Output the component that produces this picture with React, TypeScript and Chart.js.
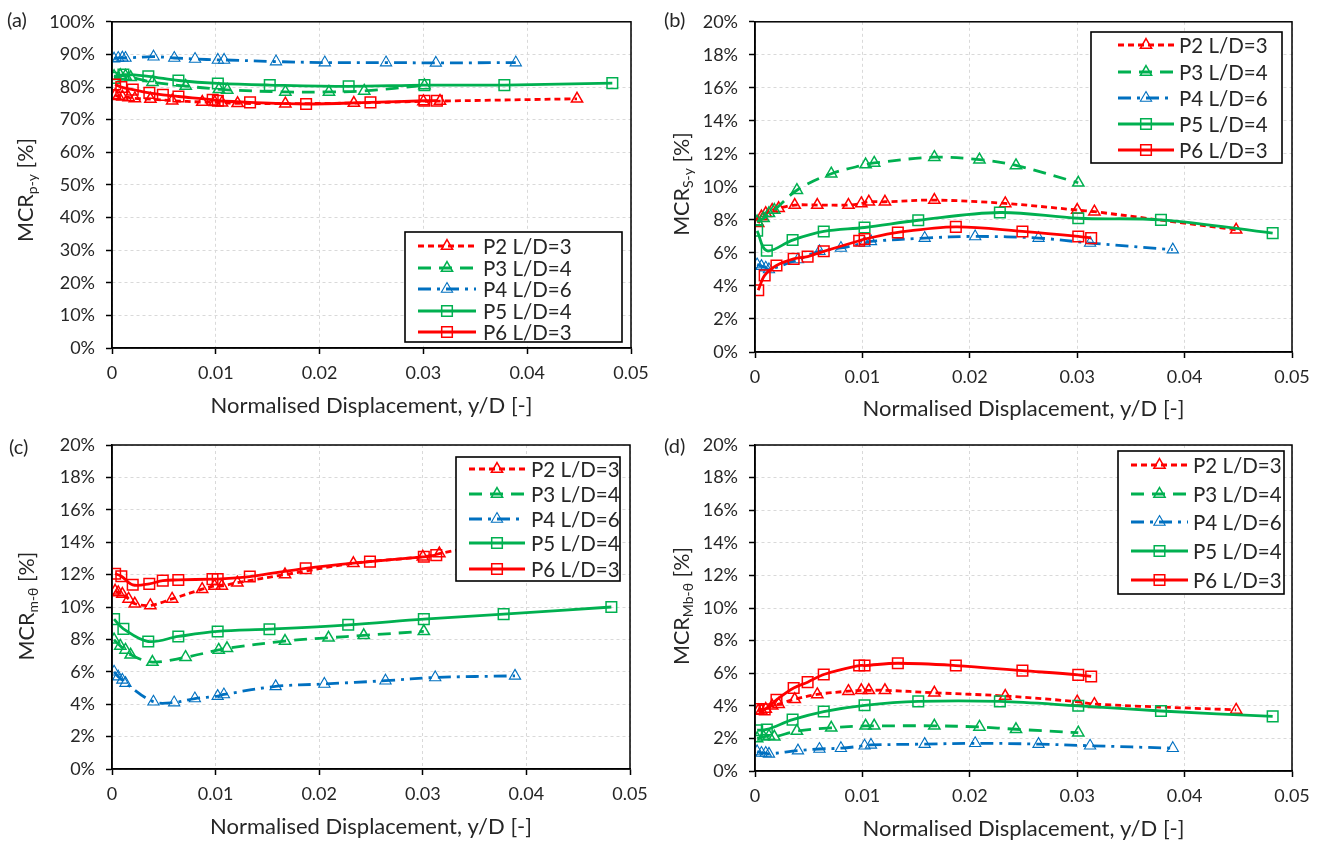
import React, { useEffect, useRef } from 'react';
import { Chart, registerables } from 'chart.js';

Chart.register(...registerables);

const FONT = 'Lato, "Open Sans", "DejaVu Sans", sans-serif';
const TEXT = '#262626';

// ---------- tick labels / names ----------
const xTickLabels = ['0', '0.01', '0.02', '0.03', '0.04', '0.05'];
const yTickLabelsA = ['0%', '10%', '20%', '30%', '40%', '50%', '60%', '70%', '80%', '90%', '100%'];
const yTickLabelsSmall = ['0%', '2%', '4%', '6%', '8%', '10%', '12%', '14%', '16%', '18%', '20%'];
const seriesNames = ['P2 L/D=3', 'P3 L/D=4', 'P4 L/D=6', 'P5 L/D=4', 'P6 L/D=3'];
const xAxisTitle = 'Normalised Displacement, y/D [-]';

// ---------- normalised displacement y/D of each test ----------
const xP2 = [0.0003, 0.0006, 0.001, 0.0016, 0.0022, 0.0037, 0.0058, 0.0087, 0.0099, 0.0106, 0.0121, 0.0167, 0.0233, 0.03, 0.0316, 0.0448];
const xP3 = [0.0002, 0.0008, 0.0013, 0.0018, 0.0039, 0.0071, 0.0103, 0.0111, 0.0167, 0.0209, 0.0243, 0.0301];
const xP4 = [0.0002, 0.0006, 0.001, 0.0013, 0.004, 0.006, 0.008, 0.0102, 0.0108, 0.0158, 0.0205, 0.0264, 0.0312, 0.0389];
const xP5 = [0.0002, 0.0011, 0.0035, 0.0064, 0.0102, 0.0152, 0.0228, 0.0301, 0.0378, 0.0482];
const xP6 = [0.0003, 0.0009, 0.002, 0.0036, 0.0049, 0.0064, 0.0097, 0.0102, 0.0133, 0.0187, 0.0249, 0.0301, 0.0313];

// ---------- (a) MCR p-y [%] ----------
const aP2 = [77.5, 77.2, 77.0, 76.8, 76.5, 76.3, 75.8, 75.4, 75.3, 75.2, 75.0, 74.9, 75.1, 75.6, 75.7, 76.4];
const aP3 = [83.3, 83.6, 83.4, 83.0, 81.5, 80.3, 79.3, 79.1, 78.5, 78.5, 78.8, 80.5];
const aP4 = [88.7, 88.9, 89.0, 88.9, 89.3, 88.9, 88.6, 88.3, 88.3, 87.8, 87.5, 87.5, 87.4, 87.5];
const aP5 = [82.8, 83.8, 83.3, 82.0, 81.1, 80.6, 80.2, 80.6, 80.6, 81.2];
const aP6 = [80.8, 80.0, 79.2, 78.2, 77.6, 77.1, 76.1, 75.8, 75.3, 74.8, 75.3, 75.8, 75.8];

// ---------- (b) MCR S-y [%] ----------
const bP2 = [7.8, 8.2, 8.4, 8.6, 8.7, 8.9, 8.9, 8.9, 9.0, 9.1, 9.1, 9.2, 9.0, 8.6, 8.5, 7.4];
const bP3 = [7.9, 8.1, 8.4, 8.6, 9.8, 10.8, 11.35, 11.45, 11.8, 11.65, 11.3, 10.25];
const bP4 = [5.3, 5.2, 5.1, 5.0, 5.6, 6.1, 6.3, 6.6, 6.7, 6.9, 7.0, 6.9, 6.6, 6.2];
const bP5 = [7.34, 6.14, 6.78, 7.3, 7.54, 7.98, 8.45, 8.1, 8.0, 7.2];
const bP6 = [3.74, 4.64, 5.24, 5.64, 5.78, 6.1, 6.74, 6.84, 7.24, 7.58, 7.3, 7.0, 6.9];

// ---------- (c) MCR m-θ [%] ----------
const cP2 = [11.0, 10.9, 10.8, 10.5, 10.2, 10.1, 10.5, 11.1, 11.3, 11.3, 11.5, 12.0, 12.7, 13.1, 13.3, 15.0];
const cP3 = [7.98, 7.6, 7.35, 7.05, 6.6, 6.9, 7.35, 7.45, 7.9, 8.1, 8.25, 8.5];
const cP4 = [6.0, 5.7, 5.5, 5.3, 4.15, 4.1, 4.35, 4.5, 4.6, 5.1, 5.25, 5.45, 5.65, 5.75];
const cP5 = [9.25, 8.65, 7.87, 8.18, 8.49, 8.63, 8.9, 9.25, 9.56, 10.0];
const cP6 = [12.05, 11.9, 11.37, 11.43, 11.63, 11.67, 11.72, 11.72, 11.88, 12.39, 12.8, 13.1, 13.2];

// ---------- (d) MCR Mb-θ [%] ----------
const dP2 = [3.7, 3.7, 3.8, 4.0, 4.1, 4.4, 4.7, 4.9, 4.95, 4.95, 4.95, 4.8, 4.6, 4.25, 4.1, 3.75];
const dP3 = [2.0, 2.1, 2.15, 2.1, 2.45, 2.65, 2.77, 2.77, 2.77, 2.7, 2.56, 2.35];
const dP4 = [1.2, 1.1, 1.1, 1.05, 1.25, 1.35, 1.4, 1.55, 1.6, 1.65, 1.7, 1.65, 1.55, 1.4];
const dP5 = [2.5, 2.55, 3.15, 3.65, 4.03, 4.27, 4.27, 4.0, 3.68, 3.35];
const dP6 = [3.8, 3.78, 4.37, 5.09, 5.45, 5.92, 6.47, 6.47, 6.61, 6.47, 6.16, 5.9, 5.8];

const xSets = [xP2, xP3, xP4, xP5, xP6];

// ---------- styles ----------
const STYLES = [
  { color: '#FF0000', dash: [6, 4], marker: 'triangle', radius: 6.5, width: 2.8, pw: 1.5 },
  { color: '#00B050', dash: [13, 8], marker: 'triangle', radius: 6.5, width: 2.8, pw: 1.5 },
  { color: '#0070C0', dash: [13, 6, 3, 6], marker: 'triangle', radius: 6.5, width: 2.8, pw: 1.1 },
  { color: '#00B050', dash: [], marker: 'rect', radius: 7.5, width: 2.8, pw: 1.5 },
  { color: '#FF0000', dash: [], marker: 'rect', radius: 7.5, width: 2.8, pw: 1.5 },
];

const PANELS = [
  {
    key: 'a', label: '(a)', sub: 'p-y', yMax: 100, yStep: 10, yLabels: yTickLabelsA,
    values: [aP2, aP3, aP4, aP5, aP6],
    canvas: { left: 0, top: 0, w: 661, h: 422 },
    plot: { x0: 112, x1: 631, y0: 19, y1: 348 },
    legend: { box: [405, 232, 622, 342], ys: [246, 268, 289, 311, 332], sx0: 418, sx1: 476, tx: 483 },
    titlePos: [25, 190], labelPos: [7, 19],
  },
  {
    key: 'b', label: '(b)', sub: 'S-y', yMax: 20, yStep: 2, yLabels: yTickLabelsSmall,
    values: [bP2, bP3, bP4, bP5, bP6],
    canvas: { left: 661, top: 0, w: 661, h: 422 },
    plot: { x0: 755, x1: 1292, y0: 19, y1: 352 },
    legend: { box: [1091, 32, 1282, 163], ys: [45, 72, 98, 124, 150], sx0: 1118, sx1: 1174, tx: 1179 },
    titlePos: [681, 184], labelPos: [664, 19],
  },
  {
    key: 'c', label: '(c)', sub: 'm-θ', yMax: 20, yStep: 2, yLabels: yTickLabelsSmall,
    values: [cP2, cP3, cP4, cP5, cP6],
    canvas: { left: 0, top: 422, w: 661, h: 423 },
    plot: { x0: 112, x1: 630, y0: 445, y1: 769 },
    legend: { box: [456, 457, 620, 581], ys: [469, 494, 519, 543, 569], sx0: 469, sx1: 525, tx: 531 },
    titlePos: [26, 606], labelPos: [9, 446],
  },
  {
    key: 'd', label: '(d)', sub: 'Mb-θ', yMax: 20, yStep: 2, yLabels: yTickLabelsSmall,
    values: [dP2, dP3, dP4, dP5, dP6],
    canvas: { left: 661, top: 422, w: 661, h: 423 },
    plot: { x0: 755, x1: 1292, y0: 445, y1: 771 },
    legend: { box: [1118, 451, 1284, 594], ys: [465, 494, 522, 551, 580], sx0: 1131, sx1: 1188, tx: 1193 },
    titlePos: [681, 606], labelPos: [664, 445],
  },
];

function drawMarker(ctx: CanvasRenderingContext2D, style: string, x: number, y: number, r: number, lw: number, color: string) {
  ctx.save();
  ctx.setLineDash([]);
  ctx.lineWidth = lw;
  ctx.strokeStyle = color;
  ctx.beginPath();
  if (style === 'triangle') {
    const s = Math.sin(Math.PI / 3) * r;
    ctx.moveTo(x, y - r);
    ctx.lineTo(x + s, y + r / 2);
    ctx.lineTo(x - s, y + r / 2);
    ctx.closePath();
  } else {
    const h = Math.SQRT1_2 * r;
    ctx.rect(x - h, y - h, 2 * h, 2 * h);
  }
  ctx.stroke();
  ctx.restore();
}

function Panel({ p }: { p: any }) {
  const ref = useRef<HTMLCanvasElement>(null);

  useEffect(() => {
    const { canvas, plot, legend } = p;
    const ox = canvas.left;
    const oy = canvas.top;
    const xAxisHeight = canvas.top + canvas.h - plot.y1;
    const titlePadBottom = Math.max(0, canvas.top + canvas.h - (plot.y1 + 58) - 13.2);

    const framePlugin = {
      id: 'frame' + p.key,
      afterDatasetsDraw(chart: any) {
        const { ctx, chartArea } = chart;
        ctx.save();
        ctx.strokeStyle = '#000';
        ctx.lineWidth = 1.5;
        ctx.setLineDash([]);
        ctx.strokeRect(chartArea.left, chartArea.top, chartArea.right - chartArea.left, chartArea.bottom - chartArea.top);
        ctx.restore();
      },
    };

    const legendPlugin = {
      id: 'boxLegend' + p.key,
      afterDatasetsDraw(chart: any) {
        const ctx: CanvasRenderingContext2D = chart.ctx;
        const [bx0, by0, bx1, by1] = legend.box;
        ctx.save();
        ctx.fillStyle = '#fff';
        ctx.fillRect(bx0 - ox, by0 - oy, bx1 - bx0, by1 - by0);
        ctx.lineWidth = 1.6;
        ctx.strokeStyle = '#000';
        ctx.setLineDash([]);
        ctx.strokeRect(bx0 - ox, by0 - oy, bx1 - bx0, by1 - by0);
        chart.data.datasets.forEach((ds: any, i: number) => {
          const y = legend.ys[i] - oy;
          ctx.save();
          ctx.strokeStyle = ds.borderColor;
          ctx.lineWidth = ds.borderWidth;
          ctx.setLineDash(ds.borderDash || []);
          ctx.beginPath();
          ctx.moveTo(legend.sx0 - ox, y);
          ctx.lineTo(legend.sx1 - ox, y);
          ctx.stroke();
          ctx.restore();
          drawMarker(ctx, ds.pointStyle, (legend.sx0 + legend.sx1) / 2 - ox, y, ds.pointRadius, ds.pointBorderWidth, ds.borderColor);
          ctx.fillStyle = TEXT;
          ctx.font = `20.5px ${FONT}`;
          ctx.textBaseline = 'middle';
          ctx.textAlign = 'left';
          ctx.fillText(ds.label, legend.tx - ox, y + 1);
        });
        ctx.restore();
      },
    };

    const datasets = STYLES.map((st, i) => ({
      label: seriesNames[i],
      data: xSets[i].map((x, j) => ({ x, y: p.values[i][j] })),
      borderColor: st.color,
      backgroundColor: st.color,
      borderWidth: st.width,
      borderDash: st.dash,
      pointStyle: st.marker,
      pointRadius: st.radius,
      pointBorderWidth: st.pw,
      pointBorderColor: st.color,
      pointBackgroundColor: 'rgba(255,255,255,0)',
      tension: 0.35,
      fill: false,
      order: 5 - i,
    }));

    const chart = new Chart(ref.current as HTMLCanvasElement, {
      type: 'line',
      data: { datasets },
      options: {
        responsive: false,
        animation: false,
        events: [],
        layout: {
          padding: { left: 0, top: plot.y0 - canvas.top, right: canvas.left + canvas.w - plot.x1, bottom: 0 },
        },
        plugins: {
          legend: { display: false },
          tooltip: { enabled: false },
          title: { display: false },
        },
        scales: {
          x: {
            type: 'linear',
            min: 0,
            max: 0.05,
            ticks: {
              stepSize: 0.01,
              color: TEXT,
              font: { family: FONT, size: 18 },
              padding: 8,
              maxRotation: 0,
              callback: (_v: any, i: number) => xTickLabels[i],
            },
            grid: { color: '#d9d9d9', lineWidth: 1, tickColor: '#000', tickLength: 6, tickWidth: 1.5 },
            border: { color: '#000', width: 1.5, dash: [3, 3] },
            title: {
              display: true,
              text: xAxisTitle,
              color: TEXT,
              font: { family: FONT, size: 22 },
              padding: { top: 4, bottom: titlePadBottom },
            },
            afterFit: (s: any) => { s.height = xAxisHeight; },
          },
          y: {
            type: 'linear',
            min: 0,
            max: p.yMax,
            ticks: {
              stepSize: p.yStep,
              color: TEXT,
              font: { family: FONT, size: 18 },
              padding: 11,
              callback: (_v: any, i: number) => p.yLabels[i],
            },
            grid: { color: '#d9d9d9', lineWidth: 1, tickColor: '#000', tickLength: 6, tickWidth: 1.5 },
            border: { color: '#000', width: 1.5, dash: [3, 3] },
            afterFit: (s: any) => { s.width = plot.x0 - canvas.left; },
          },
        },
      } as any,
      plugins: [framePlugin, legendPlugin],
    });
    return () => chart.destroy();
  }, [p]);

  const { canvas } = p;
  return (
    <>
      <div style={{ position: 'absolute', left: canvas.left, top: canvas.top, width: canvas.w, height: canvas.h }}>
        <canvas ref={ref} width={canvas.w} height={canvas.h} style={{ display: 'block', width: canvas.w, height: canvas.h }} />
      </div>
      <div
        style={{
          position: 'absolute', left: p.labelPos[0], top: p.labelPos[1], transform: 'translateY(-50%)',
          fontSize: 20, lineHeight: '24px', whiteSpace: 'nowrap',
        }}
      >
        {p.label}
      </div>
      <div
        style={{
          position: 'absolute', left: p.titlePos[0], top: p.titlePos[1],
          transform: 'translate(-50%, -50%) rotate(-90deg)',
          fontSize: 21.5, lineHeight: '26px', whiteSpace: 'nowrap',
        }}
      >
        MCR<sub style={{ fontSize: 14, verticalAlign: '-4px', lineHeight: 0 }}>{p.sub}</sub> [%]
      </div>
    </>
  );
}

export default function App() {
  return (
    <div
      style={{
        position: 'fixed', left: 0, top: 0, width: 1322, height: 845, background: '#fff',
        overflow: 'hidden', fontFamily: FONT, color: TEXT,
      }}
    >
      {PANELS.map((p) => <Panel key={p.key} p={p} />)}
    </div>
  );
}
